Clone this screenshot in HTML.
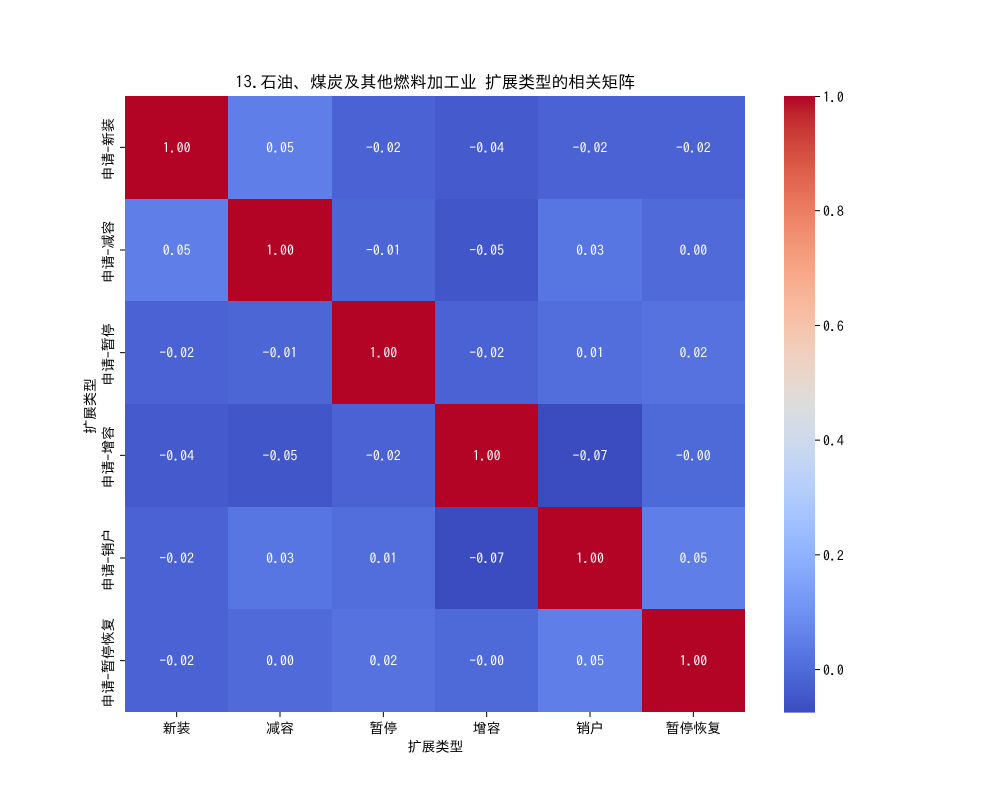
<!DOCTYPE html>
<html lang="zh">
<head>
<meta charset="utf-8">
<title>相关矩阵</title>
<style>
html,body{margin:0;padding:0;background:#fff;}
svg{display:block;}
text{font-family:"IPAGothic","WenQuanYi Zen Hei","Noto Sans CJK SC",sans-serif;fill:#000;}
</style>
</head>
<body>
<svg id="chart" xmlns="http://www.w3.org/2000/svg" width="1000" height="800" viewBox="0 0 1000 800">
<text x="435" y="88" font-size="16.67" text-anchor="middle">13.石油、煤炭及其他燃料加工业 扩展类型的相关矩阵</text>
<text x="435.5" y="751.5" font-size="13.89" text-anchor="middle">扩展类型</text>
<text transform="translate(95,406) rotate(-90)" font-size="13.89" text-anchor="middle">扩展类型</text>
<g id="cells"></g>
<g id="xticks"></g>
<g id="yticks"></g>
<g id="cbar"></g>
</svg>
<script>
const xCategories = ["新装", "减容", "暂停", "增容", "销户", "暂停恢复"];
const yCategories = ["申请-新装", "申请-减容", "申请-暂停", "申请-增容", "申请-销户", "申请-暂停恢复"];
const matrixRow1 = [1, 0.05, -0.02, -0.04, -0.02, -0.02];
const matrixRow2 = [0.05, 1, -0.01, -0.05, 0.03, 0.00];
const matrixRow3 = [-0.02, -0.01, 1, -0.02, 0.01, 0.02];
const matrixRow4 = [-0.04, -0.05, -0.02, 1, -0.074, -0.004];
const matrixRow5 = [-0.02, 0.03, 0.01, -0.074, 1, 0.05];
const matrixRow6 = [-0.02, 0.00, 0.02, -0.004, 0.05, 1];
const colorbarTicks = [0.0, 0.2, 0.4, 0.6, 0.8, 1.0];

const matrix = [matrixRow1, matrixRow2, matrixRow3, matrixRow4, matrixRow5, matrixRow6];
const NS = "http://www.w3.org/2000/svg";
const coolR = [0.2298057,0.26623388,0.30386891,0.342804478,0.38301334,0.424369608,0.46666708,0.509635204,0.552953156,0.596262162,0.639176211,0.681291281,0.722193294,0.761464949,0.798691636,0.833466556,0.865395197,0.897787179,0.924127593,0.944468518,0.958852946,0.96732803,0.969954137,0.966811177,0.958003065,0.943660866,0.923944917,0.89904617,0.869186849,0.834620542,0.795631745,0.752534934,0.705673158];
const coolG = [0.298717966,0.353094838,0.406535296,0.458757618,0.50941904,0.558148092,0.604562568,0.648280772,0.688929332,0.726149107,0.759599947,0.788964712,0.813952739,0.834302879,0.849786142,0.860207984,0.86541021,0.848937047,0.827384882,0.800927443,0.769767752,0.734132809,0.694266682,0.650421156,0.602842431,0.551750968,0.49730856,0.439559467,0.378313092,0.312874446,0.24128379,0.157246067,0.01555616];
const coolB = [0.753683153,0.801466763,0.84495867,0.883725899,0.917387822,0.945619588,0.968154911,0.98478814,0.995375608,0.999836203,0.998151185,0.990363227,0.976574709,0.956945269,0.931688648,0.901068838,0.865395561,0.820880546,0.774508472,0.726736146,0.678007945,0.628751763,0.579375448,0.530263762,0.481775914,0.434243684,0.387970225,0.343229596,0.300267182,0.259301199,0.220525627,0.184115123,0.150232812];

const plotLeft = 125, plotRight = 745, plotTop = 96, plotBottom = 712;
const cbLeft = 784, cbRight = 815;

const allValues = matrix.flat();
const vMin = Math.min(...allValues);
const vMax = Math.max(...allValues);

function colorAt(t) {
  t = Math.max(0, Math.min(1, t));
  const p = t * 32, i = Math.min(31, Math.floor(p)), f = p - i;
  const mix = a => Math.round((a[i] + (a[i + 1] - a[i]) * f) * 255);
  return "rgb(" + mix(coolR) + "," + mix(coolG) + "," + mix(coolB) + ")";
}
function norm(v) { return (v - vMin) / (vMax - vMin); }
function xEdge(i) { return Math.round(plotLeft + (plotRight - plotLeft) * i / xCategories.length); }
function yEdge(i) { return Math.round(plotTop + (plotBottom - plotTop) * i / yCategories.length); }
function xCenter(i) { return plotLeft + (plotRight - plotLeft) * (i + 0.5) / xCategories.length; }
function yCenter(i) { return plotTop + (plotBottom - plotTop) * (i + 0.5) / yCategories.length; }
function cbY(v) { return plotBottom - norm(v) * (plotBottom - plotTop); }
function fmt(v) { return v.toFixed(2).replace("-", "\u2212"); }
function make(tag, attrs, parent) {
  const el = document.createElementNS(NS, tag);
  for (const k in attrs) el.setAttribute(k, attrs[k]);
  parent.appendChild(el);
  return el;
}

const cellsG = document.getElementById("cells");
const xG = document.getElementById("xticks");
const yG = document.getElementById("yticks");
const cbG = document.getElementById("cbar");

matrix.forEach((row, r) => {
  row.forEach((v, c) => {
    const x0 = xEdge(c), x1 = xEdge(c + 1), y0 = yEdge(r), y1 = yEdge(r + 1);
    const rect = make("rect", {x: x0, y: y0, width: x1 - x0, height: y1 - y0, fill: colorAt(norm(v))}, cellsG);
    
    
  });
});
matrix.forEach((row, r) => {
  row.forEach((v, c) => {
    const label = make("text", {x: xCenter(c), y: yCenter(r) + 5, "font-size": 13.89, "text-anchor": "middle", style: "fill:#fff"}, cellsG);
    label.textContent = fmt(v);
    
    
  });
});

xCategories.forEach((name, i) => {
  const tick = make("line", {x1: xCenter(i), x2: xCenter(i), y1: plotBottom, y2: plotBottom + 5, stroke: "#000", "stroke-width": 1}, xG);
  
  
  const label = make("text", {x: xCenter(i), y: 733, "font-size": 13.89, "text-anchor": "middle"}, xG);
  label.textContent = name;
  
  
});

yCategories.forEach((name, i) => {
  const tick = make("line", {x1: plotLeft - 5, x2: plotLeft, y1: yCenter(i), y2: yCenter(i), stroke: "#000", "stroke-width": 1}, yG);
  
  
  const label = make("text", {transform: "translate(113," + (yCenter(i) + 2) + ") rotate(-90)", "font-size": 13.89, "text-anchor": "middle"}, yG);
  label.textContent = name;
  
  
});

const steps = 256;
for (let s = 0; s < steps; s++) {
  const y1 = plotBottom - (plotBottom - plotTop) * s / steps;
  const y0 = plotBottom - (plotBottom - plotTop) * (s + 1) / steps;
  const band = make("rect", {x: cbLeft, y: y0, width: cbRight - cbLeft, height: y1 - y0 + 0.6, fill: colorAt((s + 0.5) / steps)}, cbG);
  
  
}
colorbarTicks.forEach(v => {
  const y = cbY(v) + (v === 1 ? 0.5 : 0);
  const tick = make("line", {x1: cbRight, x2: cbRight + 5, y1: y, y2: y, stroke: "#000", "stroke-width": 1}, cbG);
  
  
  const label = make("text", {x: 823, y: y + 5.5, "font-size": 13.89}, cbG);
  label.textContent = v.toFixed(1);
  
  
});
</script>
</body>
</html>
